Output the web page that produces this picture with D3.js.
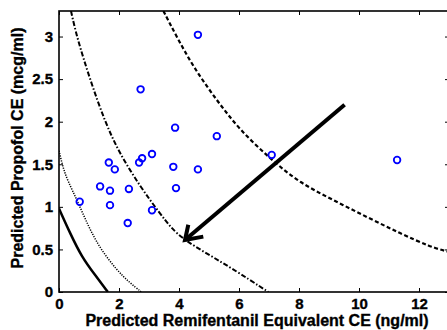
<!DOCTYPE html>
<html>
<head>
<meta charset="utf-8">
<script src="https://cdn.jsdelivr.net/npm/d3@7/dist/d3.min.js"></script>
<style>
  html, body { margin: 0; padding: 0; background: #fff; }
  svg { display: block; }
  text { font-family: "Liberation Sans", Arial, Helvetica, sans-serif; font-weight: 700; fill: #000; stroke: #000; stroke-width: 0.35px; }
</style>
</head>
<body>
<svg id="chart" width="447" height="330"></svg>
<script>
// Observed effect-site concentrations (one circle per subject)
const remiCE = [0.69, 1.37, 1.66, 1.70, 1.70, 1.86, 2.29, 2.33, 2.67, 2.77, 2.72, 3.10, 3.10, 3.87, 3.81, 3.90, 4.63, 4.63, 5.26, 7.09, 11.27];
const propCE = [1.06, 1.24, 1.52, 1.19, 1.02, 1.44, 0.81, 1.21, 1.52, 1.57, 2.38, 1.62, 0.96, 1.93, 1.47, 1.22, 3.02, 1.44, 1.83, 1.61, 1.55];

// Iso-effect curves, [remifentanil CE, propofol CE]
const isoSolid = [[0, 0.98], [0.37, 0.69], [0.76, 0.41], [1.2, 0.2], [1.63, 0]];
const isoDotted = [[0, 1.66], [0.14, 1.45], [0.3, 1.3], [0.6, 1.08], [0.98, 0.77], [1.37, 0.51], [1.92, 0.26], [2.35, 0.11], [2.75, 0]];
const isoDashDot = [[0.4, 3.3], [0.59, 3.0], [1.03, 2.5], [1.53, 2.0], [2.0, 1.64], [2.7, 1.24], [3.37, 0.92], [3.7, 0.77], [4.15, 0.61], [5.48, 0.34], [6.37, 0.14], [6.98, 0]];
const isoDashed = [[3.48, 3.3], [3.92, 3.0], [4.48, 2.64], [5.26, 2.25], [6.03, 1.9], [7.09, 1.55], [8.03, 1.28], [9.14, 1.08], [10.26, 0.88], [11.37, 0.69], [12.37, 0.53], [13.0, 0.47]];

// Arrow: shaft from start to tip, head arms from tip
const arrowShaft = [[9.52, 2.20], [4.2, 0.61]];
const arrowHeadArms = [[4.31, 0.79], [4.2, 0.61], [4.81, 0.65]];

const xTicks = [0, 2, 4, 6, 8, 10, 12];
const yTicks = [0, 0.5, 1, 1.5, 2, 2.5, 3];
const xTitle = "Predicted Remifentanil Equivalent CE (ng/ml)";
const yTitle = "Predicted Propofol CE (mcg/ml)";

const svg = d3.select("#chart");
const m = { left: 59, right: 449, top: 11, bottom: 292 };

const x = d3.scaleLinear().domain([0, 13]).range([m.left, m.right]);
const y = d3.scaleLinear().domain([0, 3.3]).range([m.bottom, m.top]);

svg.append("defs").append("clipPath").attr("id", "plotClip")
  .append("rect").attr("x", m.left).attr("y", m.top).attr("width", m.right - m.left).attr("height", m.bottom - m.top);

const plot = svg.append("g").attr("clip-path", "url(#plotClip)");

const line = d3.line().x(d => x(d[0])).y(d => y(d[1])).curve(d3.curveBasis);

plot.append("path").datum(isoSolid).attr("d", line)
  .attr("fill", "none").attr("stroke", "#000").attr("stroke-width", 2.5);
plot.append("path").datum(isoDotted).attr("d", line)
  .attr("fill", "none").attr("stroke", "#000").attr("stroke-width", 1.5).attr("stroke-dasharray", "1.2,1.3");
plot.append("path").datum(isoDashDot).attr("d", line)
  .attr("fill", "none").attr("stroke", "#000").attr("stroke-width", 2).attr("stroke-dasharray", "5,2,1.5,2");
plot.append("path").datum(isoDashed).attr("d", line)
  .attr("fill", "none").attr("stroke", "#000").attr("stroke-width", 2.2).attr("stroke-dasharray", "4,2.5");

// Subjects
plot.selectAll("circle.subject").data(remiCE.map((r, i) => [r, propCE[i]]))
  .enter().append("circle").attr("class", "subject")
  .attr("cx", d => x(d[0])).attr("cy", d => y(d[1])).attr("r", 3.3)
  .attr("fill", "none").attr("stroke", "#0000ff").attr("stroke-width", 1.8);

// Arrow
const straight = d3.line().x(d => x(d[0])).y(d => y(d[1]));
plot.append("path").datum(arrowShaft).attr("d", straight)
  .attr("fill", "none").attr("stroke", "#000").attr("stroke-width", 4);
plot.append("path").datum(arrowHeadArms).attr("d", straight)
  .attr("fill", "none").attr("stroke", "#000").attr("stroke-width", 4).attr("stroke-linejoin", "miter");

// Axes with inward ticks on all four sides
const tickLen = 4;
const gx = svg.append("g").attr("transform", `translate(0,${m.bottom})`)
  .call(d3.axisBottom(x).tickValues(xTicks).tickSizeInner(-tickLen).tickSizeOuter(0).tickPadding(6).tickFormat(d3.format("d")));
const gy = svg.append("g").attr("transform", `translate(${m.left},0)`)
  .call(d3.axisLeft(y).tickValues(yTicks).tickSizeInner(-tickLen).tickSizeOuter(0).tickPadding(6).tickFormat(d => String(d)));
const gxTop = svg.append("g").attr("transform", `translate(0,${m.top})`)
  .call(d3.axisTop(x).tickValues(xTicks).tickSizeInner(-tickLen).tickSizeOuter(0).tickFormat(""));
const gyRight = svg.append("g").attr("transform", `translate(${m.right},0)`)
  .call(d3.axisRight(y).tickValues(yTicks).tickSizeInner(-tickLen).tickSizeOuter(0).tickFormat(""));

[gx, gy, gxTop, gyRight].forEach(g => {
  g.select(".domain").remove();
  g.attr("font-family", null).attr("font-size", null);
  g.selectAll(".tick line").attr("stroke", "#000").attr("stroke-width", 1);
  g.selectAll(".tick text").style("font-size", "15px").style("font-weight", "700").attr("fill", "#000");
});

// Frame
svg.append("rect").attr("x", m.left).attr("y", m.top).attr("width", m.right - m.left).attr("height", m.bottom - m.top)
  .attr("fill", "none").attr("stroke", "#000").attr("stroke-width", 1.6);

// Axis titles
svg.append("text").attr("x", (m.left + m.right) / 2 + 3).attr("y", 326)
  .attr("text-anchor", "middle").style("font-size", "16px").style("font-weight", "700").text(xTitle);
svg.append("text").attr("transform", `translate(23,148) rotate(-90)`)
  .attr("text-anchor", "middle").style("font-size", "16px").style("font-weight", "700").text(yTitle);
</script>
</body>
</html>
